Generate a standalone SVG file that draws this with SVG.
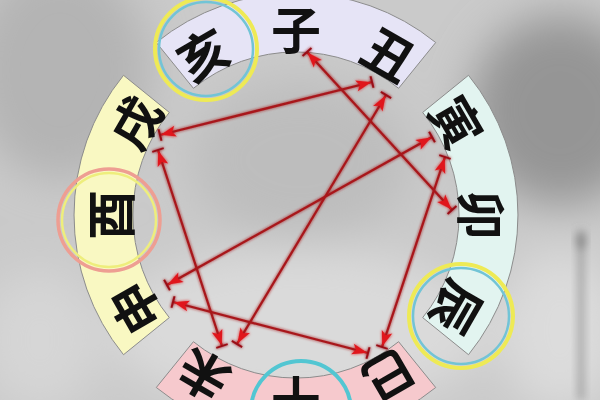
<svg xmlns="http://www.w3.org/2000/svg" width="600" height="400" viewBox="0 0 600 400">
<style>
.seg{stroke:#8c8c8c;stroke-width:1}
.ch{font-family:"Noto Sans CJK SC","Noto Sans CJK JP",sans-serif;font-size:50px;font-weight:700;fill:#111;text-anchor:middle;dominant-baseline:central}
.con{stroke:#a8161a;stroke-width:2.2;fill:none;marker-start:url(#ah);marker-end:url(#ah)}
.ring{fill:none}
</style>
<defs>
<marker id="ah" markerUnits="userSpaceOnUse" viewBox="0 0 20 16" markerWidth="20" markerHeight="16" refX="18" refY="8" orient="auto-start-reverse">
<path d="M2 2.5 L17 8 L2 13.5 L5.5 8 Z" fill="#e0191c"/>
<line x1="18" y1="2" x2="18" y2="14" stroke="#9a1014" stroke-width="2"/>
</marker>
<filter id="glow" x="-10%" y="-10%" width="120%" height="120%">
<feGaussianBlur in="SourceGraphic" stdDeviation="1.6" result="b"/>
<feMerge><feMergeNode in="b"/><feMergeNode in="SourceGraphic"/></feMerge>
</filter>
<filter id="blur20" x="-50%" y="-50%" width="200%" height="200%"><feGaussianBlur stdDeviation="22"/></filter>
<filter id="blur6" x="-50%" y="-50%" width="200%" height="200%"><feGaussianBlur stdDeviation="4"/></filter>
<path id="segpath" d="M156.3 42.5 A222 222 0 0 1 435.7 42.5 L398.6 88.3 A163 163 0 0 0 193.4 88.3 Z"/>
</defs>
<!-- background -->
<rect width="600" height="400" fill="#cacaca"/>
<g filter="url(#blur20)">
<ellipse cx="60" cy="70" rx="90" ry="110" fill="#b4b4b4"/>
<ellipse cx="560" cy="110" rx="90" ry="95" fill="#959595"/>
<ellipse cx="300" cy="330" rx="190" ry="80" fill="#dadada"/>
<ellipse cx="560" cy="330" rx="60" ry="80" fill="#dcdcdc"/>
<ellipse cx="40" cy="340" rx="60" ry="70" fill="#d6d6d6"/>
<ellipse cx="300" cy="160" rx="110" ry="80" fill="#bdbdbd"/>
</g>
<g filter="url(#blur6)" fill="#7a7a7a">
<rect x="578" y="240" width="6" height="160" opacity="0.6"/>
<ellipse cx="581" cy="240" rx="5" ry="10" opacity="0.8"/>
</g>
<!-- segments -->
<g id="seg-top">
<use href="#segpath" class="seg" fill="#e6e4f6"/>
<text class="ch" x="296" y="27" transform="rotate(-30 296 215)">亥</text>
<text class="ch" x="296" y="27">子</text>
<text class="ch" x="296" y="27" transform="rotate(30 296 215)">丑</text>
</g>
<g id="seg-right">
<use href="#segpath" class="seg" fill="#e2f4f0" transform="rotate(90 296 215)"/>
<text class="ch" x="296" y="27" transform="rotate(60 296 215)">寅</text>
<text class="ch" x="296" y="27" transform="rotate(90 296 215)">卯</text>
<text class="ch" x="296" y="27" transform="rotate(120 296 215)">辰</text>
</g>
<g id="seg-bottom">
<use href="#segpath" class="seg" fill="#f6c9cd" transform="rotate(180 296 215)"/>
<text class="ch" x="296" y="27" transform="rotate(150 296 215)">巳</text>
<text class="ch" x="296" y="27" transform="rotate(180 296 215)">午</text>
<text class="ch" x="296" y="27" transform="rotate(210 296 215)">未</text>
</g>
<g id="seg-left">
<use href="#segpath" class="seg" fill="#f9f8c2" transform="rotate(270 296 215)"/>
<text class="ch" x="296" y="27" transform="rotate(240 296 215)">申</text>
<text class="ch" x="296" y="27" transform="rotate(270 296 215)">酉</text>
<text class="ch" x="296" y="27" transform="rotate(300 296 215)">戌</text>
</g>
<!-- highlight circles -->
<g id="mark-hai" class="ring">
<circle cx="206" cy="49" r="51" stroke="#eeea55" stroke-width="4"/>
<circle cx="206" cy="49" r="47" stroke="#72c4d6" stroke-width="2.5"/>
</g>
<g id="mark-you" class="ring">
<circle cx="109" cy="220" r="51" stroke="#ee9e92" stroke-width="3.5"/>
<circle cx="109" cy="220" r="47" stroke="#eeee7c" stroke-width="2.5"/>
</g>
<g id="mark-chen" class="ring">
<circle cx="461" cy="316" r="52" stroke="#eeea55" stroke-width="4"/>
<circle cx="461" cy="316" r="48" stroke="#72c4d6" stroke-width="2.5"/>
</g>
<g id="mark-wu" class="ring">
<circle cx="301" cy="411" r="50" stroke="#52c6d2" stroke-width="4"/>
</g>
<!-- connectors -->
<g id="connectors" filter="url(#glow)">
<line class="con" x1="372" y1="82" x2="160" y2="135"/>
<line class="con" x1="307" y1="52" x2="452" y2="210"/>
<line class="con" x1="386" y1="95" x2="237" y2="344"/>
<line class="con" x1="432" y1="137" x2="167" y2="285"/>
<line class="con" x1="158" y1="150" x2="222" y2="346"/>
<line class="con" x1="173" y1="302" x2="368" y2="353"/>
<line class="con" x1="445" y1="157" x2="382" y2="347"/>
</g>
</svg>
